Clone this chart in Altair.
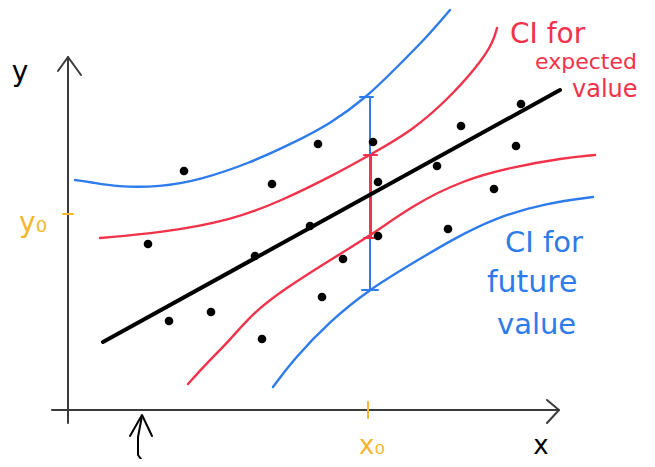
import altair as alt
import pandas as pd

# ---- data (x measured from the y-axis, y measured up from the x-axis) ----
pts_x = [116, 80, 204, 250, 242, 187, 101, 143, 194, 275, 254, 305, 310, 310, 369, 393, 380, 426, 448, 453]
pts_y = [239, 166, 226, 266, 184, 154, 89, 98, 71, 151, 113, 268, 228, 174, 244, 284, 181, 221, 264, 306]

fit_x = [35, 492]
fit_y = [68, 320]

red_up_x = [32, 92, 165, 215, 262, 302, 345, 379, 409, 425, 429]
red_up_y = [172, 177, 190, 210, 233, 255, 280, 310, 343, 367, 382]
red_lo_x = [120, 139, 162, 185, 215, 262, 302, 345, 395, 445, 495, 527]
red_lo_y = [26, 47, 70, 97, 120, 150, 174, 205, 230, 243, 252, 255]

blue_up_x = [7, 22, 49, 92, 132, 182, 225, 262, 299, 329, 359, 382]
blue_up_y = [230, 228, 223, 223, 230, 247, 267, 286, 313, 343, 373, 400]
blue_lo_x = [205, 225, 262, 302, 345, 385, 429, 479, 525]
blue_lo_y = [23, 50, 89, 121, 147, 171, 193, 207, 213]

x0 = 302
y0 = 196
blue_int = [120, 313]
red_int = [172, 255]

RED = "#F0324A"
BLUE = "#2E7BEB"
ORANGE = "#F6B62E"
AX = "#3b3b3b"

xs = alt.Scale(domain=[-60, 579], nice=False, zero=False)
ys = alt.Scale(domain=[-49, 402], nice=False, zero=False)


def curve(xv, yv, color, width):
    df = pd.DataFrame({"x": xv, "y": yv, "o": list(range(len(xv)))})
    return alt.Chart(df).mark_line(color=color, strokeWidth=width, strokeCap="round",
                                   strokeJoin="round", interpolate="basis").encode(
        x=alt.X("x:Q", scale=xs, axis=None),
        y=alt.Y("y:Q", scale=ys, axis=None),
        order="o:Q",
    )


def poly(xv, yv, color, width):
    df = pd.DataFrame({"x": xv, "y": yv, "o": list(range(len(xv)))})
    return alt.Chart(df).mark_line(color=color, strokeWidth=width, strokeCap="round",
                                   strokeJoin="round").encode(
        x=alt.X("x:Q", scale=xs, axis=None),
        y=alt.Y("y:Q", scale=ys, axis=None),
        order="o:Q",
    )


def label(text, x, y, color, size, anchor="left"):
    df = pd.DataFrame({"x": [x], "y": [y], "t": [text]})
    return alt.Chart(df).mark_text(color=color, fontSize=size, align=anchor, baseline="middle",
                                   font="DejaVu Sans").encode(
        x=alt.X("x:Q", scale=xs, axis=None),
        y=alt.Y("y:Q", scale=ys, axis=None),
        text="t:N",
    )


layers = []
# axes
layers.append(poly([0, 0], [-13, 353], AX, 2))
layers.append(poly([-10, 0, 13], [339, 353, 335], AX, 2))
layers.append(poly([-16, 491], [0, 0], AX, 2))
layers.append(poly([479, 491, 479], [10, 0, -13], AX, 2))
# ticks
layers.append(poly([-5, 5], [y0, y0], ORANGE, 2))
layers.append(poly([x0 - 2, x0 - 2], [-8, 8], ORANGE, 2))
# bottom arrow
layers.append(poly([74, 70, 70, 73], [-6, -27, -45, -49], "black", 2))
layers.append(poly([62, 74, 84], [-26, -5, -26], "black", 2))

# bands
layers.append(curve(blue_up_x, blue_up_y, BLUE, 2.4))
layers.append(curve(blue_lo_x, blue_lo_y, BLUE, 2.4))
layers.append(curve(red_up_x, red_up_y, RED, 2.4))
layers.append(curve(red_lo_x, red_lo_y, RED, 2.4))

# intervals at x0
layers.append(poly([x0, x0], blue_int, BLUE, 2))
layers.append(poly([x0 - 10, x0 + 3], [blue_int[1], blue_int[1]], BLUE, 2))
layers.append(poly([x0 - 8, x0 + 8], [blue_int[0], blue_int[0]], BLUE, 2))
layers.append(poly([x0 + 1, x0 + 1], red_int, RED, 2))
layers.append(poly([x0 - 6, x0 + 7], [red_int[1], red_int[1]], RED, 2))
layers.append(poly([x0 - 6, x0 + 7], [red_int[0], red_int[0]], RED, 2))

# fit line
layers.append(poly(fit_x, fit_y, "black", 4))

# points
pdf = pd.DataFrame({"x": pts_x, "y": pts_y})
layers.append(alt.Chart(pdf).mark_circle(color="black", size=75, opacity=1).encode(
    x=alt.X("x:Q", scale=xs, axis=None), y=alt.Y("y:Q", scale=ys, axis=None)))

# labels
layers.append(label("y", -48, 337, "black", 28, "center"))
layers.append(label("x", 473, -36, "black", 26, "center"))
layers.append(label("x₀", 304, -36, ORANGE, 26, "center"))
layers.append(label("y₀", -35, 186, ORANGE, 28, "center"))
layers.append(label("CI for", 442, 375, RED, 28))
layers.append(label("expected", 467, 348, RED, 22))
layers.append(label("value", 504, 320, RED, 24))
layers.append(label("CI for", 437, 167, BLUE, 29))
layers.append(label("future", 419, 127, BLUE, 30))
layers.append(label("value", 429, 85, BLUE, 29))

chart = alt.layer(*layers).properties(
    width=639, height=451, padding=0, autosize=alt.AutoSizeParams(type="none"),
    background="white",
).configure_view(stroke=None)

chart.save("out.html", embed_options={"renderer": "svg", "actions": False})
